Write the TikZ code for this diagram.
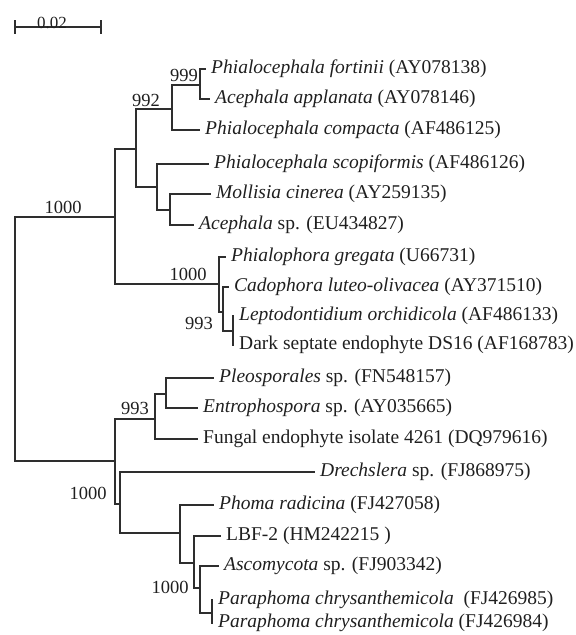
\documentclass[tikz,border=0pt]{standalone}
\usepackage{fontspec}
\setmainfont{Liberation Serif}
\begin{document}
\begin{tikzpicture}[x=1pt,y=-1pt,
  br/.style={line width=1.9pt, draw=black!82, line cap=rect},
  leaf/.style={anchor=west, inner xsep=6pt, inner ysep=0pt, text=black!88, font=\fontsize{19.5}{21}\selectfont},
  boot/.style={inner sep=0pt, text=black!88, font=\fontsize{18.5}{20}\selectfont}]
\useasboundingbox (0,0) rectangle (576,635);
% scale bar
\coordinate (s1) at (15,27);
\coordinate (s2) at (101,27);
\draw[line width=1.5pt, draw=black!82] (s1) -- (s2);
\draw[line width=1.5pt, draw=black!82] ([yshift=7pt]s1) -- ([yshift=-7pt]s1);
\draw[line width=1.5pt, draw=black!82] ([yshift=7pt]s2) -- ([yshift=-7pt]s2);
\node[boot, anchor=base, font=\fontsize{17}{19}\selectfont] (scale) at (52,28) {0.02};
% internal nodes and tips
\coordinate (root) at (15,339);
\coordinate (U) at (115,217);
\coordinate (V) at (136,149);
\coordinate (W) at (172,109);
\coordinate (X) at (200,85);
\coordinate (t1) at (205,69);
\coordinate (t2) at (209,99);
\coordinate (t3) at (199,130);
\coordinate (Y) at (157,187);
\coordinate (t4) at (208,164);
\coordinate (Z) at (170,210);
\coordinate (t5) at (210,194);
\coordinate (t6) at (193,225);
\coordinate (A) at (219,284);
\coordinate (t7) at (225,257);
\coordinate (B) at (223,312);
\coordinate (t8) at (228,287);
\coordinate (C) at (233,331);
\coordinate (t9) at (233,316);
\coordinate (t10) at (233,345);
\coordinate (L) at (115,461);
\coordinate (M) at (155,419);
\coordinate (N) at (166,394);
\coordinate (t11) at (213,378);
\coordinate (t12) at (197,408);
\coordinate (t13) at (197,439);
\coordinate (O) at (120,504);
\coordinate (t14) at (314,472);
\coordinate (P) at (180,533);
\coordinate (t15) at (213,505);
\coordinate (Q) at (194,563);
\coordinate (t16) at (220,536);
\coordinate (R) at (200,588);
\coordinate (t17) at (218,566);
\coordinate (S) at (212,613);
\coordinate (t18) at (212,600);
\coordinate (t19) at (212,623);
% branches
\draw[br] (root) |- (U);
\draw[br] (root) |- (L);
\draw[br] (U) |- (V);
\draw[br] (U) |- (A);
\draw[br] (V) |- (W);
\draw[br] (V) |- (Y);
\draw[br] (W) |- (X);
\draw[br] (W) |- (t3);
\draw[br] (X) |- (t1);
\draw[br] (X) |- (t2);
\draw[br] (Y) |- (t4);
\draw[br] (Y) |- (Z);
\draw[br] (Z) |- (t5);
\draw[br] (Z) |- (t6);
\draw[br] (A) |- (t7);
\draw[br] (A) |- (B);
\draw[br] (B) |- (t8);
\draw[br] (B) |- (C);
\draw[br] (C) |- (t9);
\draw[br] (C) |- (t10);
\draw[br] (L) |- (M);
\draw[br] (L) |- (O);
\draw[br] (M) |- (N);
\draw[br] (M) |- (t13);
\draw[br] (N) |- (t11);
\draw[br] (N) |- (t12);
\draw[br] (O) |- (t14);
\draw[br] (O) |- (P);
\draw[br] (P) |- (t15);
\draw[br] (P) |- (Q);
\draw[br] (Q) |- (t16);
\draw[br] (Q) |- (R);
\draw[br] (R) |- (t17);
\draw[br] (R) |- (S);
\draw[br] (S) |- (t18);
\draw[br] (S) |- (t19);
% leaf labels
\node[leaf] (n1) at (t1) {\textit{Phialocephala fortinii} (AY078138)};
\node[leaf] (n2) at (t2) {\textit{Acephala applanata} (AY078146)};
\node[leaf] (n3) at (t3) {\textit{Phialocephala compacta} (AF486125)};
\node[leaf] (n4) at (t4) {\textit{Phialocephala scopiformis} (AF486126)};
\node[leaf] (n5) at (t5) {\textit{Mollisia cinerea} (AY259135)};
\node[leaf] (n6) at (t6) {\textit{Acephala} sp. (EU434827)};
\node[leaf] (n7) at (t7) {\textit{Phialophora gregata} (U66731)};
\node[leaf] (n8) at (t8) {\textit{Cadophora luteo-olivacea} (AY371510)};
\node[leaf] (n9) at (t9) {\textit{Leptodontidium orchidicola} (AF486133)};
\node[leaf] (n10) at (t10) {Dark septate endophyte DS16 (AF168783)};
\node[leaf] (n11) at (t11) {\textit{Pleosporales} sp. (FN548157)};
\node[leaf] (n12) at (t12) {\textit{Entrophospora} sp. (AY035665)};
\node[leaf] (n13) at (t13) {Fungal endophyte isolate 4261 (DQ979616)};
\node[leaf] (n14) at (t14) {\textit{Drechslera} sp. (FJ868975)};
\node[leaf] (n15) at (t15) {\textit{Phoma radicina} (FJ427058)};
\node[leaf] (n16) at (t16) {LBF-2 (HM242215 )};
\node[leaf] (n17) at (t17) {\textit{Ascomycota} sp. (FJ903342)};
\node[leaf] (n18) at (t18) {\textit{Paraphoma chrysanthemicola}\ \ (FJ426985)};
\node[leaf] (n19) at (t19) {\textit{Paraphoma chrysanthemicola} (FJ426984)};
% bootstrap values
\node[boot] (b1) at (63,207) {1000};
\node[boot] (b2) at (146,100) {992};
\node[boot] (b3) at (184,75) {999};
\node[boot] (b4) at (188,274) {1000};
\node[boot] (b5) at (199,323) {993};
\node[boot] (b6) at (135,408) {993};
\node[boot] (b7) at (88,493) {1000};
\node[boot] (b8) at (170,587) {1000};
\end{tikzpicture}
\end{document}
